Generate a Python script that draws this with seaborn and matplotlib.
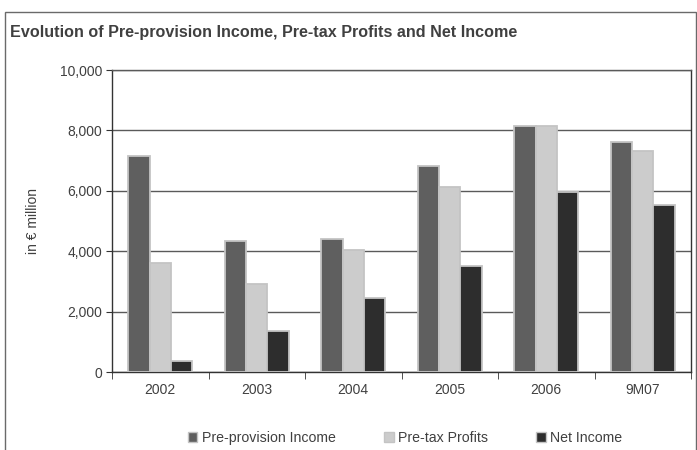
import pandas as pd
import seaborn as sns
import matplotlib.pyplot as plt
from matplotlib.patches import Rectangle
from matplotlib.ticker import FuncFormatter

# values (in EUR million)
periods = ['2002', '2003', '2004', '2005', '2006', '9M07']
pre_provision = [7150, 4350, 4400, 6820, 8150, 7620]
pre_tax = [3600, 2910, 4040, 6120, 8160, 7320]
net_income = [380, 1360, 2440, 3510, 5970, 5520]
series = ['Pre-provision Income', 'Pre-tax Profits', 'Net Income']
colors = ['#5f5f5f', '#cccccc', '#2d2d2d']

df = pd.DataFrame({'period': periods,
                   series[0]: pre_provision,
                   series[1]: pre_tax,
                   series[2]: net_income})
long = df.melt(id_vars='period', var_name='series', value_name='value')

sns.set_style('white')
plt.rcParams['font.family'] = ['Liberation Sans', 'DejaVu Sans']
txt = '#404040'

fig = plt.figure(figsize=(6.97, 4.5), dpi=100)
ax = fig.add_axes([112 / 697, 1 - 372 / 450, 579 / 697, 302 / 450])

sns.barplot(data=long, x='period', y='value', hue='series', order=periods,
            hue_order=series, palette=colors, width=0.66, ax=ax,
            edgecolor='#c4c4c4', linewidth=1.3, legend=False, zorder=3)

ax.set_ylim(0, 10000)
ax.set_yticks(range(0, 10001, 2000))
ax.yaxis.set_major_formatter(FuncFormatter(lambda v, p: f'{int(v):,}'))
ax.grid(axis='y', color='#5a5a5a', linewidth=1, zorder=0)
ax.set_axisbelow(True)
ax.set_xlabel('')
ax.set_ylabel('in € million', color=txt, fontsize=10, labelpad=14)

for side in ['left', 'bottom', 'right', 'top']:
    ax.spines[side].set_visible(True)
    ax.spines[side].set_color('#333333')
    ax.spines[side].set_linewidth(1)
ax.spines['top'].set_color('#5a5a5a')

# y ticks outward, x ticks at category boundaries
ax.tick_params(axis='y', direction='out', length=4, color='#333333',
               labelcolor=txt, labelsize=10, left=True, pad=3)
ax.set_xticks(range(len(periods)))
ax.set_xticklabels(periods)
ax.set_xticks([i - 0.5 for i in range(len(periods) + 1)], minor=True)
ax.tick_params(axis='x', which='major', length=0, labelcolor=txt,
               labelsize=10, pad=8)
ax.tick_params(axis='x', which='minor', direction='out', length=5,
               color='#333333', bottom=True)
ax.set_xlim(-0.5, len(periods) - 0.5)

fig.text(10 / 697, 1 - 32 / 450,
         'Evolution of Pre-provision Income, Pre-tax Profits and Net Income',
         fontsize=11.6, fontweight='bold', color=txt, va='center')

# outer frame of the chart box
fig.patches.append(Rectangle((5 / 697, -0.01), 690.5 / 697, 1 - 12 / 450 + 0.01,
                             transform=fig.transFigure, fill=False,
                             edgecolor='#6a6a6a', linewidth=1))

handles = [Rectangle((0, 0), 1, 1, facecolor=c, edgecolor='#c4c4c4',
                     linewidth=1) for c in colors]
fig.legend(handles, series, loc='center', bbox_to_anchor=(0.581, 1 - 438 / 450),
           ncol=3, frameon=False, fontsize=10.2, handlelength=0.7,
           handleheight=0.7, handletextpad=0.3, columnspacing=3.4,
           labelcolor=txt)

fig.savefig('out.png', dpi=100)
